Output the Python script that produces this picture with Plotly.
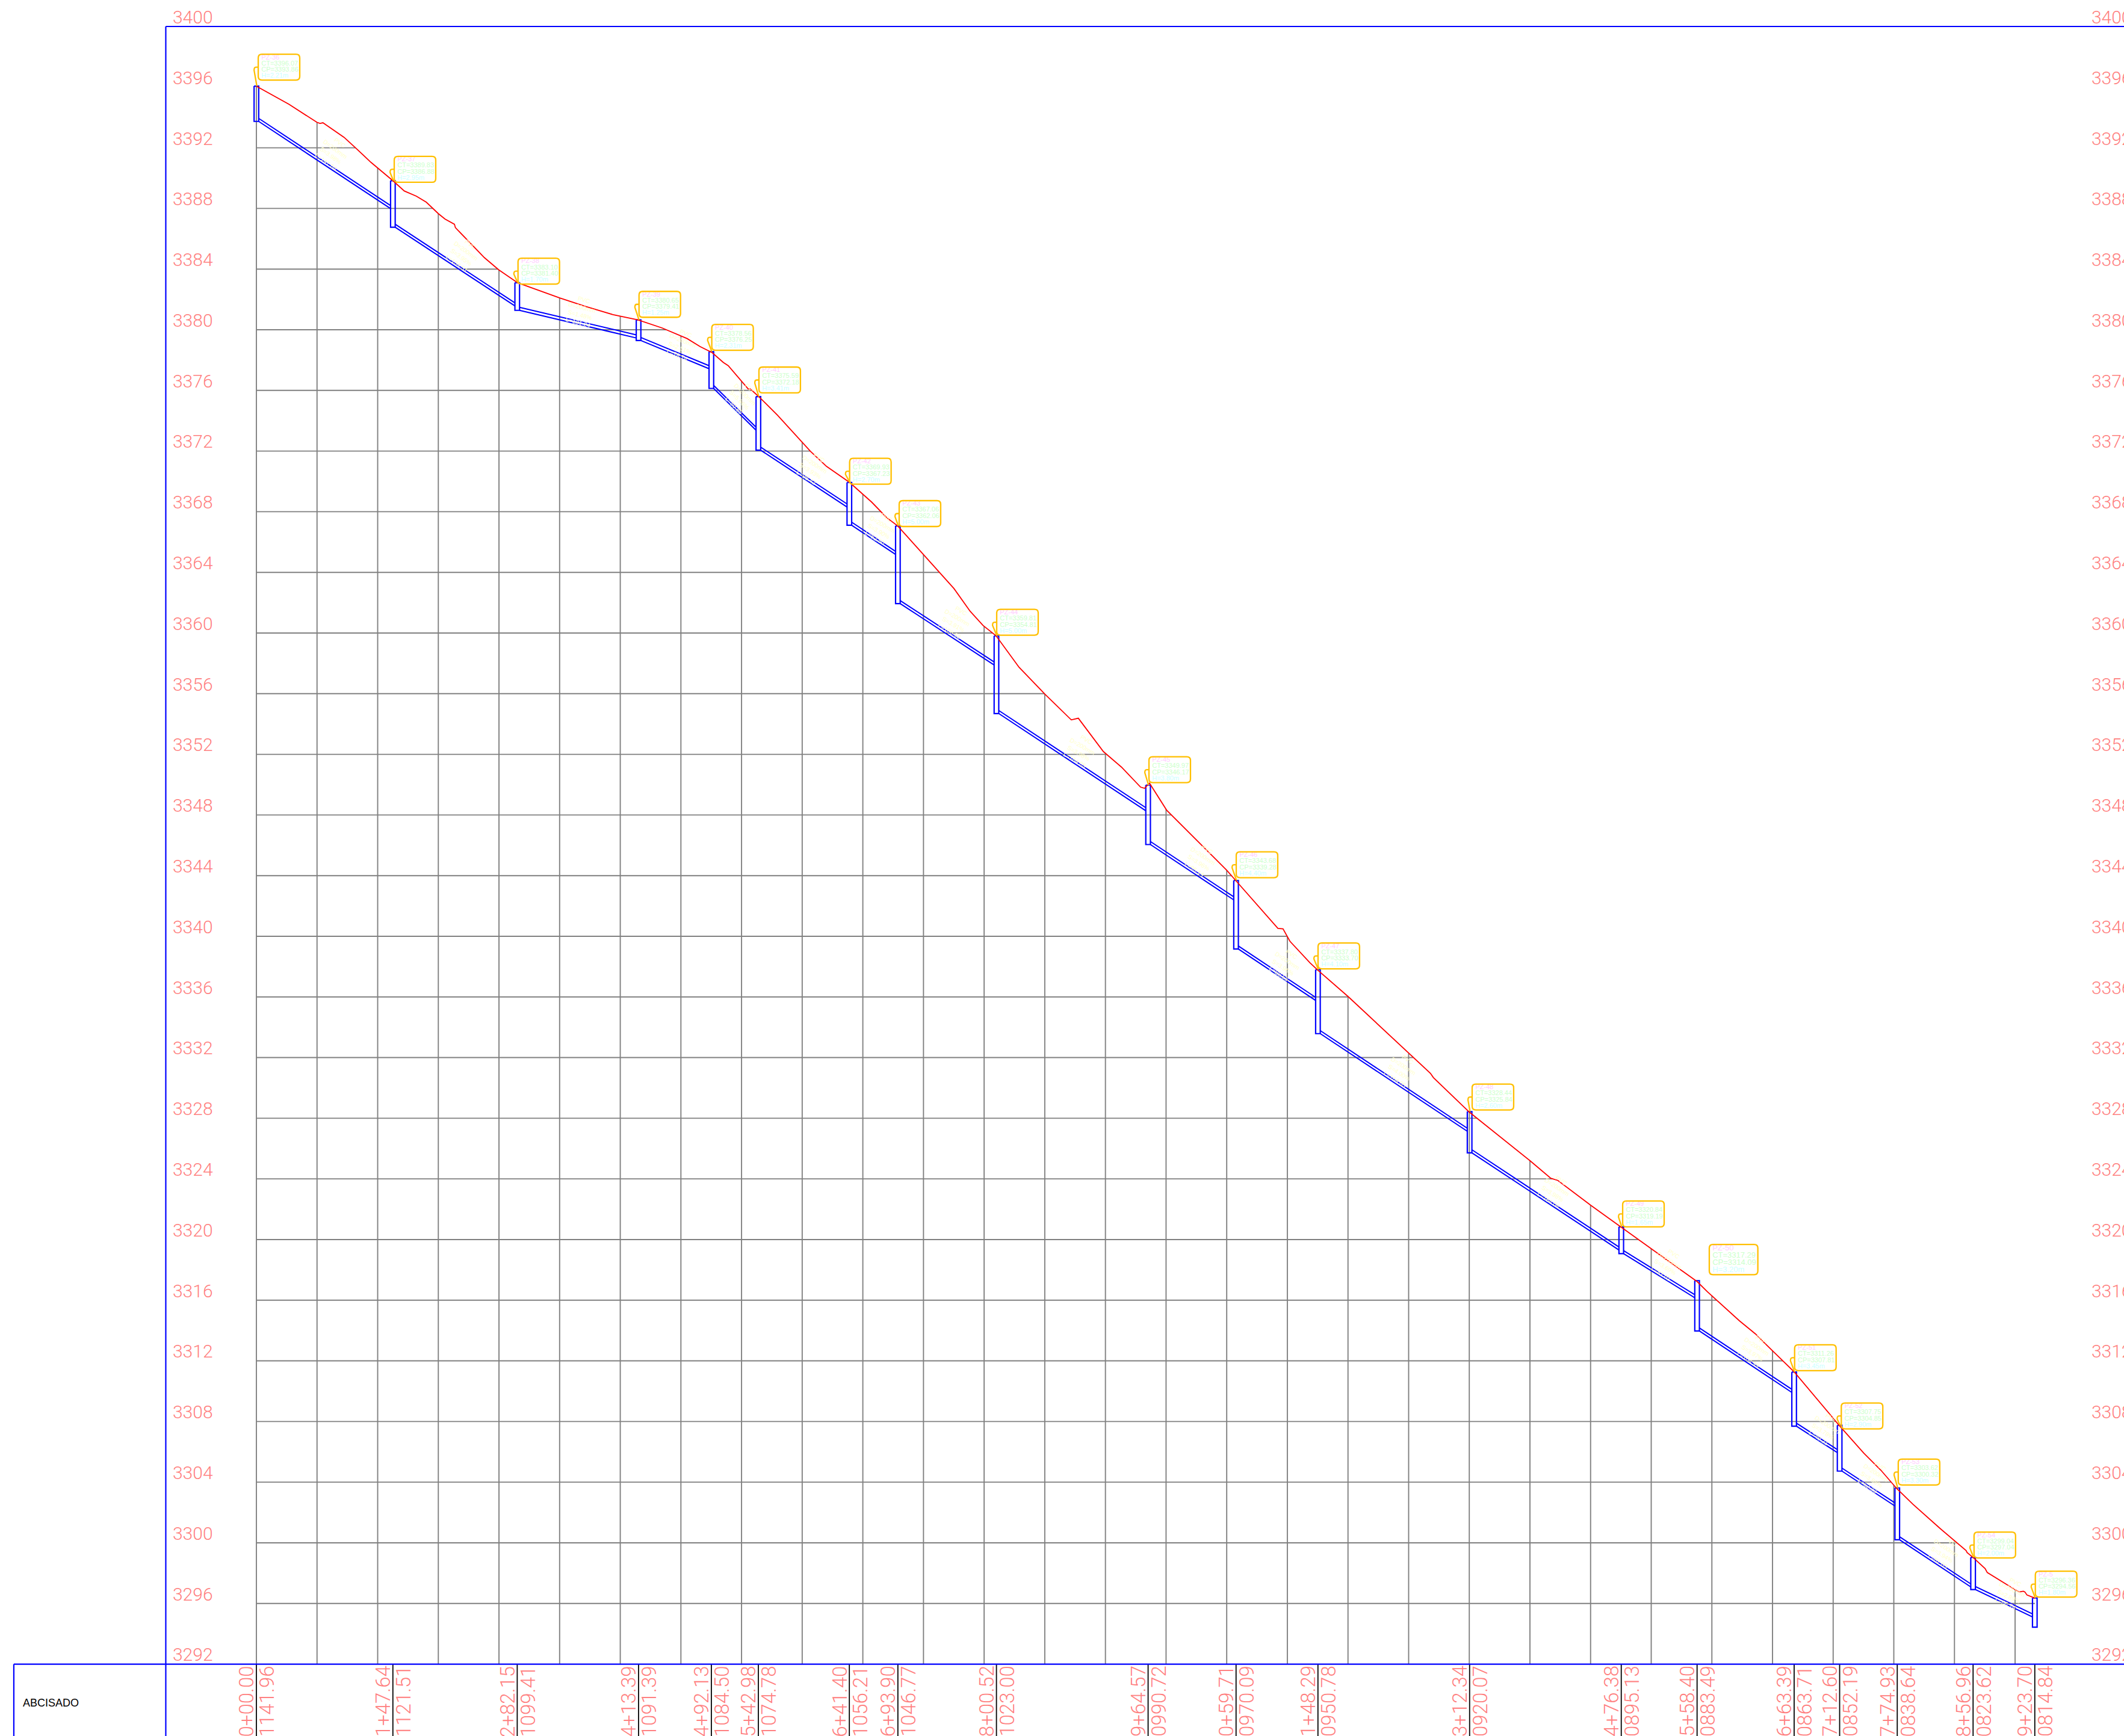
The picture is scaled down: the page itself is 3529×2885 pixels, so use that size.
import plotly.graph_objects as go

# ---------- data ----------
pz_names = ["PZ-36","PZ-37","PZ-38","PZ-39","PZ-40","PZ-41","PZ-42","PZ-43","PZ-44","PZ-45",
            "PZ-46","PZ-47","PZ-48","PZ-49","PZ-50","PZ-51","PZ-52","PZ-53","PZ-54","PZ-5"]
stations = [0.00,147.64,282.15,413.39,492.13,542.98,641.40,693.90,800.52,964.57,
            1059.71,1148.29,1312.34,1476.38,1558.40,1663.39,1712.60,1774.93,1856.96,1923.70]
station_labels = ["0+00.00","1+47.64","2+82.15","4+13.39","4+92.13","5+42.98","6+41.40","6+93.90","8+00.52","9+64.57",
                  "10+59.71","11+48.29","13+12.34","14+76.38","15+58.40","16+63.39","17+12.60","17+74.93","18+56.96","19+23.70"]
abscissa_labels = ["11141.96","11121.51","11099.41","11091.39","11084.50","11074.78","11056.21","11046.77","11023.00","10990.72",
                   "10970.09","10950.78","10920.07","10895.13","10883.49","10863.71","10852.19","10838.64","10823.62","10814.84"]
ct = [3396.07,3389.83,3383.10,3380.65,3378.56,3375.59,3369.93,3367.06,3359.81,3349.97,
      3343.68,3337.80,3328.44,3320.84,3317.29,3311.26,3307.75,3303.62,3299.04,3296.36]
cp = [3393.86,3386.88,3381.40,3379.41,3376.25,3372.18,3367.23,3362.06,3354.81,3346.17,
      3339.28,3333.70,3325.84,3319.19,3314.09,3307.81,3304.85,3300.32,3297.04,3294.56]
h = ["2.21","2.95","1.70","1.25","2.31","3.41","2.70","5.00","5.00","3.80",
     "4.40","4.10","2.60","1.65","3.20","3.45","2.90","3.30","2.00","1.80"]
# invert of each pipe where it reaches the next manhole
pipe_end = [3387.99,3381.57,3379.46,3377.43,3373.37,3368.31,3365.18,3357.89,3348.28,3342.40,
            3335.77,3327.14,3319.31,3316.16,3309.92,3305.95,3302.43,3297.09,3295.11]

terrain_s = [0,35.2,65.5,68.8,72,94.8,107.9,124.1,148,160,173,183.8,196.8,204,214.2,215.3,246.7,262,282.6,
             308.6,328.1,356.3,385.6,412.8,438.8,465.9,480,493,505,510.4,524.5,532.1,534.3,544,563.6,589.6,599.4,616.7,641.7,
             665.6,681.8,693.8,722,754.6,772,786,800.1,825,853.3,881.5,889.1,916.2,935.7,956.4,960.7,966.1,
             984.6,1049.7,1059.5,1105,1110.5,1118,1139.7,1148.4,1181,1246,1270,1273.2,1298.2,1312.3,1378.5,1400.2,1407.8,
             1443.6,1476.2,1508.7,1545.6,1558.6,1569.5,1580.3,1604.2,1621.5,1630.2,1663.9,1673.6,1712.7,1738.7,1757.2,
             1774.5,1791.9,1821.2,1837.5,1849.4,1850.5,1857,1870,1872.3,1903.6,1906.9,1911.3,1913,1915.2,1923.8]
terrain_v = [3396.06,3394.87,3393.68,3393.61,3393.65,3392.69,3391.96,3391.03,3389.81,3389.15,3388.81,3388.41,3387.66,3387.30,3386.96,3386.73,3384.75,3383.96,3383.10,
             3382.53,3382.10,3381.53,3381.00,3380.65,3380.12,3379.42,3378.89,3378.49,3377.85,3377.63,3376.62,3376.09,3376.09,3375.56,3374.37,3372.65,3371.98,3370.99,3369.93,
             3368.63,3367.61,3367.06,3365.13,3362.93,3361.44,3360.50,3359.82,3357.74,3355.95,3354.27,3354.38,3352.18,3351.16,3349.84,3349.76,3350.10,
             3348.32,3344.35,3343.67,3340.52,3340.49,3339.67,3338.25,3337.75,3336.02,3332.30,3330.96,3330.68,3329.19,3328.39,3325.16,3324.04,3323.90,
             3322.25,3320.82,3319.40,3317.81,3317.22,3316.56,3315.96,3314.64,3313.78,3313.25,3311.24,3310.54,3307.70,3305.92,3304.79,
             3303.57,3302.54,3300.95,3300.09,3299.49,3299.36,3299.03,3298.30,3298.04,3296.86,3296.76,3296.81,3296.76,3296.56,3296.35]

# call-out boxes: left station and top elevation
box_left = [2,149.1,283,413.9,492.6,543.6,641.7,695.3,800.8,965.5,
            1059.9,1148.4,1315.1,1477.9,1571.6,1663.9,1714.4,1776,1858,1924.3]
box_top = [3398.17,3391.43,3384.72,3382.53,3380.35,3377.54,3371.52,3368.73,3361.56,3351.84,
           3345.57,3339.56,3330.25,3322.54,3319.68,3313.06,3309.22,3305.52,3300.71,3298.13]
box_scale = [1,1,1,1,1,1,1,1,1,1,1,1,1,1,1.17,1,1,1,1,1]

# pipe notes (pale yellow, rotated)
note_s = [82.7,224,350.9,459.6,525.4,601.6,675.1,755.9,891.3,1021.5,1112.6,1238.3,1404.3,1526,1620.4,1696.6,1749.3,1825.5,1897]
note_v = [3391.71,3385.0,3381.23,3379.05,3375.56,3370.92,3366.95,3360.79,3352.3,3345.08,3338.17,3331.23,3323.25,3318.41,3312.74,3307.58,3304.4,3299.44,3296.7]
note_angle = [36,36,15,22,45,33,30,30,30,33,33,33,33,33,33,33,33,33,25]

elevation_ticks = list(range(3292, 3401, 4))
grid_step = 65.6
grid_count = 30

# ---------- styles ----------
PINK = "#ff8080"; GRAY = "#808080"; BLUE = "#0000ff"; RED = "#ff0000"; ORANGE = "#ffbf00"
SANS = "Liberation Sans"
THIN = "Roboto"
X_RANGE = [-277.34, 2020.2]
Y_RANGE = [3287.26, 3401.746]
MAN_W = 2.5
FLOOR = 0.12
PIPE = 0.2
LEFT_EDGE = -98.0    # x of the blue frame
OUTER_EDGE = -262.4  # x of the outer table frame
BOTTOM = 3292

fig = go.Figure()

def add_line(xs, ys, color, width):
    fig.add_trace(go.Scatter(x=xs, y=ys, mode="lines", line=dict(color=color, width=width),
                             hoverinfo="skip", showlegend=False, connectgaps=False))

def add_text(xs, ys, texts, color, size, pos="middle right", family=SANS, weight="normal"):
    fig.add_trace(go.Scatter(x=xs, y=ys, mode="text", text=texts, textposition=pos,
                             textfont=dict(family=family, color=color, size=size, weight=weight),
                             hoverinfo="skip", showlegend=False, cliponaxis=False))

def terrain_at(s):
    for i in range(len(terrain_s) - 1):
        if terrain_s[i] <= s <= terrain_s[i + 1]:
            t = (s - terrain_s[i]) / (terrain_s[i + 1] - terrain_s[i])
            return terrain_v[i] + t * (terrain_v[i + 1] - terrain_v[i])
    return terrain_v[-1]

def terrain_cross(v):
    for i in range(len(terrain_v) - 1):
        if terrain_v[i] >= v >= terrain_v[i + 1]:
            t = (terrain_v[i] - v) / (terrain_v[i] - terrain_v[i + 1])
            return terrain_s[i] + t * (terrain_s[i + 1] - terrain_s[i])
    return terrain_s[-1]

# grid, stopping under the terrain
gx, gy = [], []
for k in range(grid_count):
    s = k * grid_step
    gx += [s, s, None]; gy += [BOTTOM, terrain_at(s), None]
for v in elevation_ticks[1:-2]:
    gx += [0, terrain_cross(v), None]; gy += [v, v, None]
add_line(gx, gy, GRAY, 1.9)

# black station ticks under the profile
bx, by = [], []
for s in stations:
    bx += [s, s, None]; by += [BOTTOM, Y_RANGE[0], None]
add_line(bx, by, "#000000", 1.8)

# frame
add_line([LEFT_EDGE, LEFT_EDGE, None, LEFT_EDGE, X_RANGE[1], None, OUTER_EDGE, X_RANGE[1], None, OUTER_EDGE, OUTER_EDGE],
         [Y_RANGE[0], 3400, None, 3400, 3400, None, BOTTOM, BOTTOM, None, BOTTOM, Y_RANGE[0]], BLUE, 2.2)

# pipes and manholes
px, py = [], []
for i in range(len(pipe_end)):
    a, b = stations[i] + MAN_W, stations[i + 1] - MAN_W
    lo0, lo1 = cp[i] - FLOOR, pipe_end[i]
    px += [a, b, None, a, b, None]
    py += [lo0, lo1, None, lo0 + PIPE, lo1 + PIPE, None]
mx, my = [], []
for i, s in enumerate(stations):
    mx += [s - MAN_W, s + MAN_W, s + MAN_W, s - MAN_W, s - MAN_W, None]
    my += [ct[i], ct[i], cp[i] - FLOOR, cp[i] - FLOOR, ct[i], None]
add_line(px, py, BLUE, 2)
add_line(mx, my, BLUE, 2.2)

# terrain
add_line(terrain_s, terrain_v, RED, 1.8)

# elevation labels both sides
add_text([-90.5] * len(elevation_ticks), [v + 0.5 for v in elevation_ticks],
         [str(v) for v in elevation_ticks], PINK, 30, family=THIN, weight=300)
add_text([1985] * len(elevation_ticks), [v + 0.5 for v in elevation_ticks],
         [str(v) for v in elevation_ticks], PINK, 30, family=THIN, weight=300)

# call-outs
shapes = []
box_w, box_h = 44.9, 1.706
line_off = [0.226, 0.623, 1.048, 1.444]
for i, s in enumerate(stations):
    k = box_scale[i]
    l, t = box_left[i], box_top[i]
    r, b = l + box_w * k, t - box_h * k
    rs, rv = 4.0, 0.24
    shapes.append(dict(type="path", xref="x", yref="y", layer="above",
                       line=dict(color=ORANGE, width=2.3),
                       path=(f"M {l+rs},{t} L {r-rs},{t} Q {r},{t} {r},{t-rv} L {r},{b+rv} Q {r},{b} {r-rs},{b} "
                             f"L {l+rs},{b} Q {l},{b} {l},{b+rv} L {l},{t-rv} Q {l},{t} {l+rs},{t} Z")))
    if pz_names[i] != "PZ-50":
        ym = (t + b) / 2
        ox = l - 4.5
        shapes.append(dict(type="path", xref="x", yref="y", layer="above",
                           line=dict(color=ORANGE, width=2.3),
                           path=f"M {l},{ym} L {ox+2},{ym} Q {ox},{ym} {ox},{ym-0.2} L {s+0.5},{ct[i]}"))

sizes = [13 if k > 1 else 11 for k in box_scale]
tx = [box_left[i] + 3.4 for i in range(20)]
def line_y(n):
    return [box_top[i] - line_off[n] * box_scale[i] for i in range(20)]
add_text(tx, line_y(0), pz_names, "#ffccff", sizes)
add_text(tx, line_y(1), [f"CT={v:.2f}" for v in ct], "#ccffcc", sizes)
add_text(tx, line_y(2), [f"CP={v:.2f}" for v in cp], "#ccffcc", sizes)
add_text(tx, line_y(3), [f"H={v}m" for v in h], "#ccffff", sizes)

annotations = []
# rotated pipe notes
for i in range(len(pipe_end)):
    length = stations[i + 1] - stations[i]
    slope = (cp[i] - pipe_end[i]) / length * 100
    annotations.append(dict(x=note_s[i], y=note_v[i], xref="x", yref="y", showarrow=False,
                            text=f"PVC<br>D=200mm<br>S={slope:.2f}%<br>L={length:.2f}",
                            textangle=note_angle[i], align="center",
                            font=dict(family=SANS, size=10, color="#ffffcc")))
# station labels, read bottom to top, cut by the page edge
for i, s in enumerate(stations):
    annotations.append(dict(x=s, y=BOTTOM, xref="x", yref="y", showarrow=False, xanchor="center", yanchor="top",
                            xshift=-16, yshift=-1, textangle=-90, text=station_labels[i],
                            font=dict(family=THIN, size=33, color=PINK, weight=300)))
    annotations.append(dict(x=s, y=BOTTOM, xref="x", yref="y", showarrow=False, xanchor="center", yanchor="top",
                            xshift=18, yshift=-1, textangle=-90, text=abscissa_labels[i],
                            font=dict(family=THIN, size=33, color=PINK, weight=300)))
annotations.append(dict(x=-254, y=3289.45, xref="x", yref="y", showarrow=False, xanchor="left", yanchor="middle",
                        text="ABCISADO", font=dict(family=SANS, size=18, color="#000000")))

fig.update_layout(
    width=3529, height=2885,
    margin=dict(l=0, r=0, t=0, b=0, pad=0),
    paper_bgcolor="white", plot_bgcolor="white",
    showlegend=False, shapes=shapes, annotations=annotations,
    xaxis=dict(range=X_RANGE, visible=False, fixedrange=True),
    yaxis=dict(range=Y_RANGE, visible=False, fixedrange=True),
)
fig.write_html("out.html", config={"displayModeBar": False},
               post_script="document.body.style.margin='0';document.documentElement.style.overflow='hidden';")
